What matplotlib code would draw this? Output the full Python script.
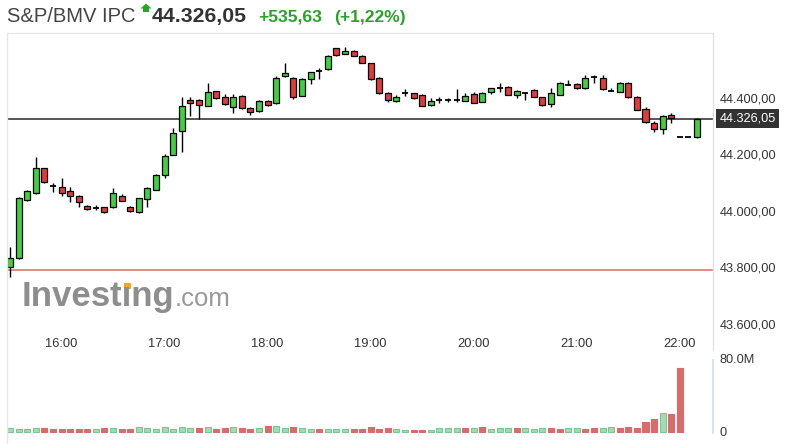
import matplotlib
matplotlib.use("Agg")
import matplotlib.pyplot as plt
from matplotlib.patches import Rectangle, Polygon
from matplotlib.lines import Line2D

plt.rcParams["font.family"] = ["Liberation Sans", "DejaVu Sans"]

W, H = 794, 444

# 5-minute candles from 15:30 to 22:10 (index 0 = 15:30)
opens = [43800, 43834, 44037, 44062, 44150, 44089, 44083, 44070, 44052, 44017,
         44011, 44012, 44012, 44052, 44014, 43995, 44042, 44074, 44127, 44198,
         44282, 44392, 44392, 44371, 44422, 44404, 44368, 44406, 44365, 44353,
         44389, 44381, 44477, 44471, 44407, 44467, 44495, 44501, 44575, 44555,
         44566, 44548, 44522, 44471, 44418, 44390, 44417, 44416, 44410, 44374,
         44391, 44391, 44393, 44390, 44412, 44386, 44422, 44433, 44439, 44410,
         44417, 44428, 44402, 44378, 44410, 44445, 44449, 44434, 44472, 44469,
         44425, 44422, 44451, 44404, 44360, 44310, 44290, 44339, 44260, 44260,
         44260]
highs = [43873, 44048, 44073, 44191, 44153, 44098, 44115, 44085, 44055, 44020,
         44020, 44014, 44080, 44059, 44016, 44046, 44083, 44130, 44201, 44292,
         44402, 44402, 44395, 44451, 44425, 44412, 44412, 44408, 44367, 44391,
         44391, 44477, 44522, 44473, 44469, 44492, 44504, 44550, 44577, 44580,
         44568, 44550, 44524, 44473, 44420, 44410, 44430, 44418, 44412, 44398,
         44402, 44399, 44430, 44418, 44419, 44420, 44436, 44453, 44441, 44428,
         44422, 44430, 44404, 44434, 44455, 44461, 44451, 44481, 44481, 44481,
         44434, 44455, 44457, 44406, 44366, 44318, 44339, 44347, 44260, 44260,
         44327]
lows = [43767, 43830, 44034, 44058, 44098, 44068, 44053, 44032, 44014, 44003,
        44003, 43993, 44010, 44033, 43997, 43993, 44012, 44072, 44116, 44196,
        44209, 44336, 44324, 44369, 44396, 44376, 44347, 44361, 44338, 44351,
        44372, 44379, 44475, 44396, 44405, 44448, 44465, 44499, 44549, 44553,
        44546, 44522, 44463, 44414, 44384, 44384, 44406, 44396, 44369, 44372,
        44381, 44385, 44386, 44388, 44381, 44384, 44413, 44422, 44408, 44398,
        44392, 44402, 44372, 44368, 44408, 44444, 44432, 44432, 44453, 44429,
        44424, 44420, 44400, 44355, 44311, 44280, 44272, 44312, 44260, 44260,
        44259]
closes = [43832, 44044, 44070, 44150, 44101, 44087, 44064, 44052, 44030, 44006,
          44013, 43995, 44062, 44035, 43999, 44044, 44080, 44127, 44194, 44274,
          44371, 44381, 44374, 44422, 44398, 44378, 44402, 44363, 44351, 44389,
          44374, 44469, 44487, 44404, 44467, 44490, 44497, 44548, 44551, 44566,
          44548, 44524, 44465, 44416, 44392, 44402, 44415, 44398, 44371, 44389,
          44393, 44393, 44391, 44406, 44383, 44418, 44434, 44435, 44410, 44422,
          44419, 44404, 44374, 44416, 44453, 44446, 44434, 44469, 44474, 44431,
          44426, 44453, 44402, 44357, 44313, 44288, 44336, 44327, 44260, 44260,
          44326.05]

# volume in millions, with bar colour flag (g = up / green)
volumes = [3.6, 2.6, 2.6, 3.6, 3.6, 2.6, 2.6, 2.6, 2.6, 2.6,
           2.6, 3.6, 3.6, 2.6, 2.6, 4.7, 3.6, 2.6, 4.7, 2.6,
           5.5, 3.6, 3.6, 4.7, 2.6, 3.6, 4.7, 3.6, 2.6, 3.6,
           6.2, 6.2, 3.6, 4.7, 3.6, 2.6, 2.6, 2.6, 2.6, 2.6,
           2.6, 2.6, 4.7, 2.6, 3.6, 2.6, 1.8, 1.8, 1.8, 1.8,
           3.6, 3.6, 3.6, 3.6, 3.6, 4.7, 2.6, 3.6, 3.6, 3.6,
           3.6, 2.6, 3.6, 3.6, 2.6, 3.6, 3.6, 2.6, 3.6, 3.6,
           4.7, 3.6, 4.7, 3.6, 11.0, 13.5, 20.1, 19.0, 69.4]
vol_up = "ggggrrrrrrgrgrrgggggggrgrrgrrgrgg" "rggrgggrrrrrgg" "rrggggrgrgggrgggrrggrrggrrrrrgrr"
vol_up = [ch == "g" for ch in vol_up]

prev_close = 43790.42
last_price = 44326.05
hour_slots = [6, 18, 30, 42, 54, 66, 78]
hour_labels = ["16:00", "17:00", "18:00", "19:00", "20:00", "21:00", "22:00"]
price_ticks = [43600, 43800, 44000, 44200, 44400]

UP, DOWN = "#3fd13f", "#e23b3b"
VUP, VUP_EDGE, VDOWN = "#a3dcb2", "#7fc495", "#d96b6b"


def px(x, y, w=0, h=0):
    return [x / W, 1 - (y + h) / H, w / W, h / H]


def fmt_price(v):
    s = f"{v:,.2f}"
    return s.replace(",", "X").replace(".", ",").replace("X", ".")


fig = plt.figure(figsize=(W / 100, H / 100), dpi=100)
fig.patch.set_facecolor("white")

# ---- price panel
ax = fig.add_axes(px(7, 33, 706, 299))
ax.set_xlim(-0.35, 81.86)
ax.set_ylim(43571, 44629)
for s in ["left", "bottom", "right"]:
    ax.spines[s].set_visible(False)
ax.spines["top"].set_color("#e4e4e4")

bw = 0.7
for i, (o, h, l, c) in enumerate(zip(opens, highs, lows, closes)):
    if h > l:
        ax.vlines(i, l, h, color="black", lw=1.0, zorder=2)
    if abs(c - o) < 3:
        ax.hlines(o, i - bw / 2, i + bw / 2, color="black", lw=1.3, zorder=3)
    else:
        col = UP if c > o else DOWN
        ax.add_patch(Rectangle((i - bw / 2, min(o, c)), bw, abs(c - o),
                               facecolor=col, edgecolor="black", lw=0.9, zorder=3))

ax.axhline(last_price, color="#555555", lw=1.4, zorder=1)
ax.axhline(prev_close, color="#e58a86", lw=1.4, zorder=1)

ax.yaxis.tick_right()
ax.set_yticks(price_ticks)
ax.set_yticklabels([fmt_price(v) for v in price_ticks])
ax.set_xticks(hour_slots)
ax.set_xticklabels(hour_labels)
ax.tick_params(axis="y", length=0, pad=4.5, labelsize=9.2, labelcolor="#333333")
ax.tick_params(axis="x", length=0, pad=4, labelsize=9.3, labelcolor="#333333")

ax.annotate(fmt_price(last_price), xy=(1, last_price),
            xycoords=("axes fraction", "data"), xytext=(4.5, 0),
            textcoords="offset points", va="center", ha="left",
            fontsize=9.2, color="white",
            bbox=dict(boxstyle="square,pad=0.28", fc="#333333", ec="none"),
            annotation_clip=False)

# ---- volume panel
vax = fig.add_axes(px(7, 352, 706, 88))
vax.set_xlim(-0.35, 81.86)
vax.set_ylim(-9.1, 87.3)
for s in ["left", "bottom", "right", "top"]:
    vax.spines[s].set_visible(False)
for i, (v, up) in enumerate(zip(volumes, vol_up)):
    vax.bar(i, v, width=bw, bottom=0, color=VUP if up else VDOWN,
            edgecolor=VUP_EDGE if up else VDOWN, lw=0.8)
vax.yaxis.tick_right()
vax.set_yticks([0, 80])
vax.set_yticklabels(["0", "80.0M"])
vax.set_xticks([])
vax.tick_params(axis="y", length=0, pad=4.5, labelsize=9.2, labelcolor="#333333")

# borders
fig.add_artist(Line2D([7 / W, 7 / W], [1 - 33 / H, 0], transform=fig.transFigure,
                      color="#e6e6e6", lw=1))
fig.add_artist(Line2D([713 / W, 713 / W], [1 - 33 / H, 1 - 350 / H],
                      transform=fig.transFigure, color="#e2e2e2", lw=1))
fig.add_artist(Line2D([713 / W, 713 / W], [1 - 360 / H, 1 - 433 / H],
                      transform=fig.transFigure, color="#d6dbe6", lw=1.2))

# ---- header
fig.text(7 / W, 1 - 22 / H, "S&P/BMV IPC", fontsize=14.5, color="#444444", va="baseline")
arrow = [(143, 12), (143, 8.5), (140.5, 8.5), (146, 3.5), (151.5, 8.5), (149, 8.5), (149, 12)]
fig.add_artist(Polygon([(x / W, 1 - y / H) for x, y in arrow], closed=True,
                       transform=fig.transFigure, fc="#2aa52a", ec="none"))
fig.text(152 / W, 1 - 22 / H, fmt_price(last_price), fontsize=15.3, fontweight="bold",
         color="#333333", va="baseline")
fig.text(258 / W, 1 - 22 / H, "+535,63", fontsize=12.6, fontweight="bold",
         color="#27a327", va="baseline")
fig.text(334 / W, 1 - 22 / H, "(+1,22%)", fontsize=12.6, fontweight="bold",
         color="#27a327", va="baseline")

# ---- watermark logo
r = fig.canvas.get_renderer()
logo_kw = dict(fontsize=25, fontweight="bold", color="#8e8e8e", va="baseline")
t = fig.text(22 / W, 1 - 306 / H, "Investıng", **logo_kw)
bb = t.get_window_extent(r)
tmp = fig.text(22 / W, 1 - 306 / H, "Invest", **logo_kw)
bb1 = tmp.get_window_extent(r)
tmp2 = fig.text(22 / W, 1 - 306 / H, "Investı", **logo_kw)
bb2 = tmp2.get_window_extent(r)
tmp.remove()
tmp2.remove()
dot_x = (bb1.x1 + bb2.x1) / 2
fig.add_artist(Rectangle((dot_x / W - 3.2 / W, 1 - 289 / H), 6.4 / W, 6 / H,
                         transform=fig.transFigure, fc="#f5a623", ec="none"))
fig.text(bb.x1 / W, 1 - 306 / H, ".com", fontsize=18.5, color="#999999", va="baseline")

fig.savefig("out.png", dpi=100)
